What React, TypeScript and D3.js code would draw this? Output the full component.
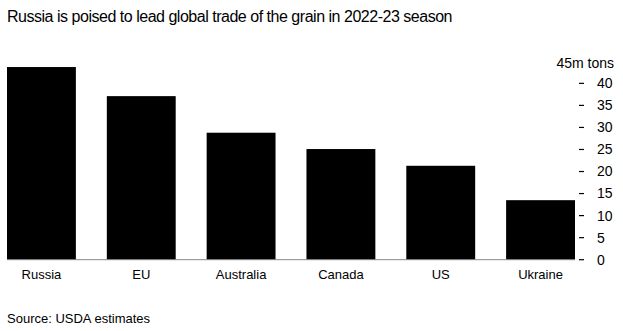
import React from "react";
import * as d3 from "d3";

const title = "Russia is poised to lead global trade of the grain in 2022-23 season";
const source = "Source: USDA estimates";
const unitLabel = "45m tons";
const categories = ["Russia", "EU", "Australia", "Canada", "US", "Ukraine"];
const values = [43.7, 37.1, 28.8, 25.1, 21.3, 13.5];
const tickValues = [0, 5, 10, 15, 20, 25, 30, 35, 40];

const W = 623;
const H = 331;
const FONT = "'Liberation Sans', Arial, Helvetica, sans-serif";

export default function App() {
  const x = d3.scaleBand<string>().domain(categories).range([7, 575]).paddingInner(0.31).paddingOuter(0);
  const y = d3.scaleLinear().domain([0, 45]).range([259.7, 61.3]);
  return (
    <svg width={W} height={H} style={{ position: "absolute", left: 0, top: 0, background: "#fff" }} fontFamily={FONT}>
      <rect x={0} y={0} width={W} height={H} fill="#fff" />
      <text x={7} y={22} fontSize={16} letterSpacing={-0.48} fill="#000">{title}</text>
      {categories.map((c, i) => (
        <rect key={c} x={x(c)} y={y(values[i])} width={x.bandwidth()} height={y(0) - y(values[i])} fill="#000" />
      ))}
      <line x1={7} x2={575} y1={y(0)} y2={y(0)} stroke="#888" strokeWidth={1} />
      {categories.map((c) => (
        <text key={c} x={(x(c) as number) + x.bandwidth() / 2} y={278.5} fontSize={13} textAnchor="middle" fill="#000">{c}</text>
      ))}
      {tickValues.map((t) => (
        <g key={t} transform={`translate(0,${y(t)})`}>
          <line x1={579} x2={584} y1={0} y2={0} stroke="#000" strokeWidth={1.2} />
          <text x={597} y={0} dy="0.35em" fontSize={14} fill="#000">{t}</text>
        </g>
      ))}
      <text x={614} y={y(45) + 2} dy="0.35em" fontSize={14} textAnchor="end" fill="#000">{unitLabel}</text>
      <text x={7} y={323} fontSize={13} fill="#000">{source}</text>
    </svg>
  );
}
